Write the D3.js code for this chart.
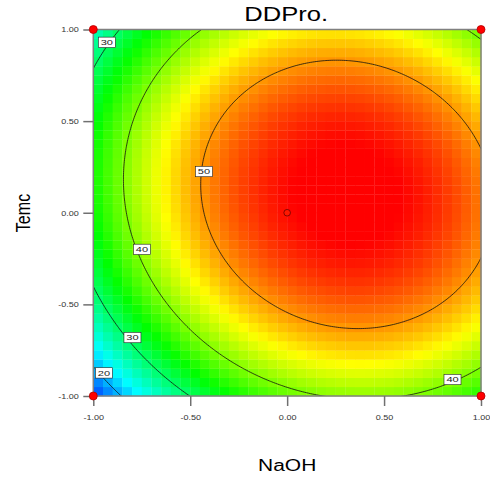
<!DOCTYPE html>
<html>
<head>
<meta charset="utf-8">
<script src="https://cdn.jsdelivr.net/npm/d3@7"></script>
<style>
  body { margin: 0; background: #fff; }
  svg { display: block; font-family: "Liberation Sans", Arial, sans-serif; }
</style>
</head>
<body>
<div id="contour-chart"></div>
<script>
// Chart data
const chartTitle = "DDPro.";
const xFactor = "NaOH";
const yFactor = "Temc";
const tickValues = [-1, -0.5, 0, 0.5, 1];
const tickLabels = ["-1.00", "-0.50", "0.00", "0.50", "1.00"];

// Quadratic model in coded units: Intercept, A, B, AB, A^2, B^2
const modelTerms = ["Intercept", "A", "B", "AB", "A2", "B2"];
const modelCoefs = [56.03, 8.38, 3.43, -1.98, -13.20, -14.06];

// response range that the colours span (blue -> red)
const colorRange = [12.5, 56.5];

const contourLevels = [20, 30, 40, 50];

// design points
const pointsX = [-1, -1, 1, 1, 0];
const pointsY = [-1, 1, 1, -1, 0];

// contour label spots (coded units)
const labelLevels = [30, 50, 40, 30, 20, 40];
const labelX = [-0.93, -0.429, -0.749, -0.798, -0.945, 0.853];
const labelY = [0.93, 0.225, -0.20, -0.681, -0.874, -0.91];

const width = 490;
const height = 477;
const margin = {top: 29.5, left: 93.3};
const innerWidth = 387.7;
const innerHeight = 366.5;
const stretch = 1.31; // the picture is wider than tall, so is its text

const model = (a, b) => {
  const c = modelCoefs;
  return c[0] + c[1] * a + c[2] * b + c[3] * a * b + c[4] * a * a + c[5] * b * b;
};

// widen a text like the picture does
const widen = (sel, factor = stretch) => {
  sel.each(function() {
    const w = this.getComputedTextLength();
    d3.select(this)
      .attr("textLength", w * factor)
      .attr("lengthAdjust", "spacingAndGlyphs");
  });
};

const xScale = d3.scaleLinear().domain([-1, 1]).range([0, innerWidth]);
const yScale = d3.scaleLinear().domain([-1, 1]).range([innerHeight, 0]);

// Heat map cells
const nCells = 40;
const cellStep = 2 / nCells;
const cells = d3.range(nCells * nCells).map(k => {
  const i = k % nCells, j = Math.floor(k / nCells);
  const x0 = -1 + i * cellStep, y0 = -1 + j * cellStep;
  return {x0, y0, x1: x0 + cellStep, y1: y0 + cellStep,
          value: model(x0 + cellStep / 2, y0 + cellStep / 2)};
});

const [vMin, vMax] = colorRange;
const colorScale = d3.scaleLinear()
  .domain(d3.range(5).map(i => vMin + i * (vMax - vMin) / 4))
  .range(["#0000ff", "#00ffff", "#00ff00", "#ffff00", "#ff0000"])
  .interpolate(d3.interpolateRgb)
  .clamp(true);

const svg = d3.select("#contour-chart")
  .append("svg")
    .attr("width", width)
    .attr("height", height)
    .attr("viewBox", [0, 0, width, height]);

const chart = svg.append("g")
  .attr("transform", `translate(${margin.left}, ${margin.top})`);

chart.append("clipPath")
    .attr("id", "plot-clip")
  .append("rect")
    .attr("width", innerWidth)
    .attr("height", innerHeight);

chart.append("g")
    .attr("class", "cells")
  .selectAll("rect")
  .data(cells)
  .join("rect")
    .attr("x", d => xScale(d.x0))
    .attr("y", d => yScale(d.y1))
    .attr("width", d => xScale(d.x1) - xScale(d.x0) + 0.3)
    .attr("height", d => yScale(d.y0) - yScale(d.y1) + 0.3)
    .attr("fill", d => colorScale(d.value));

// Contour lines, computed on a grid a bit larger than the plot then clipped
const n = 211;
const gStart = -1.05, gStep = 2.1 / (n - 1);
const values = new Array(n * n);
for (let j = 0; j < n; j++) {
  for (let i = 0; i < n; i++) {
    values[j * n + i] = model(gStart + i * gStep, gStart + j * gStep);
  }
}
const contours = d3.contours().size([n, n]).thresholds(contourLevels)(values);
const projection = d3.geoTransform({
  point(x, y) {
    this.stream.point(xScale(gStart + (x - 0.5) * gStep), yScale(gStart + (y - 0.5) * gStep));
  }
});
const path = d3.geoPath(projection);

chart.append("g")
    .attr("clip-path", "url(#plot-clip)")
  .selectAll("path")
  .data(contours)
  .join("path")
    .attr("d", path)
    .attr("fill", "none")
    .attr("stroke", "#111")
    .attr("stroke-width", 0.8);

// Frame
chart.append("rect")
    .attr("width", innerWidth)
    .attr("height", innerHeight)
    .attr("fill", "none")
    .attr("stroke", "#808080")
    .attr("stroke-width", 1.5);

// Axes
const bottomAxis = d3.axisBottom(xScale)
  .tickValues(tickValues)
  .tickFormat((d, i) => tickLabels[i])
  .tickSize(10)
  .tickPadding(8.5);
const xAxis = chart.append("g")
    .attr("class", "axis axis-x")
    .attr("transform", `translate(0, ${innerHeight})`)
    .call(bottomAxis);

const leftAxis = d3.axisLeft(yScale)
  .tickValues(tickValues)
  .tickFormat((d, i) => tickLabels[i])
  .tickSize(10)
  .tickPadding(4.5);
const yAxis = chart.append("g")
    .attr("class", "axis axis-y")
    .call(leftAxis);

[xAxis, yAxis].forEach(ax => {
  ax.select(".domain").remove();
  ax.selectAll(".tick line").attr("stroke", "#707070").attr("stroke-width", 1.5);
  ax.selectAll(".tick text")
    .attr("fill", "#333")
    .style("font-size", "7.5px")
    .style("font-family", "'Liberation Sans', Arial, sans-serif")
    .call(widen, stretch * 0.92);
});

// Design points
chart.append("g")
  .selectAll("circle")
  .data(pointsX.map((x, i) => ({x, y: pointsY[i]})))
  .join("circle")
    .attr("cx", d => xScale(d.x))
    .attr("cy", d => yScale(d.y))
    .attr("r", d => (d.x === 0 && d.y === 0) ? 3.3 : 4)
    .attr("fill", d => (d.x === 0 && d.y === 0) ? "#ff1800" : "#ff0000")
    .attr("stroke", d => (d.x === 0 && d.y === 0) ? "#6a0000" : "#b00000")
    .attr("stroke-width", 0.8);

// Contour labels, on top of everything in the plot
const labels = chart.append("g")
    .attr("class", "contour-labels")
  .selectAll("g")
  .data(labelLevels.map((lv, i) => ({level: lv, x: labelX[i], y: labelY[i]})))
  .join("g")
    .attr("transform", d => `translate(${xScale(d.x)}, ${yScale(d.y)})`);
labels.append("rect")
    .attr("x", -8.5)
    .attr("y", -5.2)
    .attr("width", 17)
    .attr("height", 10.4)
    .attr("fill", "#fff")
    .attr("stroke", "#222")
    .attr("stroke-width", 0.6);
labels.append("text")
    .text(d => d.level)
    .attr("text-anchor", "middle")
    .attr("dy", "0.36em")
    .style("font-size", "8px")
    .attr("fill", "#222")
    .call(widen, stretch * 1.05);

// Title and axis titles
svg.append("text")
    .text(chartTitle)
    .attr("x", margin.left + innerWidth / 2 - 1)
    .attr("y", 21)
    .attr("text-anchor", "middle")
    .style("font-size", "19.5px")
    .attr("fill", "#000")
    .call(widen);

svg.append("text")
    .text(xFactor)
    .attr("x", margin.left + innerWidth / 2)
    .attr("y", 471)
    .attr("text-anchor", "middle")
    .style("font-size", "16px")
    .attr("fill", "#000")
    .call(widen);

// rotated: the glyphs get taller across, so a bigger font squeezed back to length
svg.append("text")
    .text(yFactor)
    .attr("transform", "translate(30, 213) rotate(-90)")
    .attr("text-anchor", "middle")
    .style("font-size", "21px")
    .attr("fill", "#000")
    .call(widen, 1 / stretch);
</script>
</body>
</html>
